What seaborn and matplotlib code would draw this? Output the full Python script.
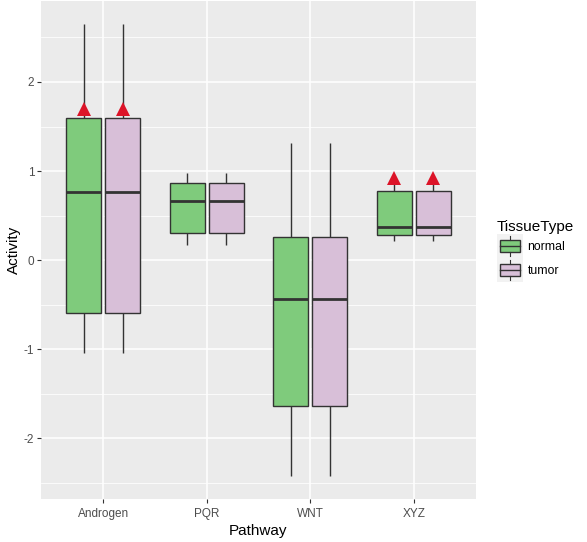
import numpy as np
import pandas as pd
import seaborn as sns
import matplotlib
matplotlib.use("Agg")
import matplotlib.pyplot as plt
from matplotlib.patches import Patch, Rectangle
from matplotlib.lines import Line2D
from matplotlib.legend_handler import HandlerBase

# values
pathways = ['Androgen', 'PQR', 'WNT', 'XYZ']
tissues = ['normal', 'tumor']
whisker_low = [-1.04, 0.17, -2.42, 0.22]
box_low = [-0.59, 0.31, -1.64, 0.28]
median = [0.765, 0.67, -0.43, 0.37]
box_high = [1.60, 0.87, 0.265, 0.78]
whisker_high = [2.655, 0.975, 1.31, 0.87]
mark_pathways = ['Androgen', 'XYZ']
mark_values = [1.70, 0.92]

colors = {'normal': '#7FCB7C', 'tumor': '#D8BFD8'}
mark_color = '#DC1428'
line_color = '#333333'


class BoxKey(HandlerBase):
    def create_artists(self, legend, orig, xd, yd, w, h, fs, trans):
        x0, y0 = -xd, -yd
        bg = Rectangle((x0, y0), w, h, facecolor='#F2F2F2', edgecolor='none', transform=trans)
        bw, bh = w * 0.8, h * 0.5
        bx, by = x0 + (w - bw) / 2, y0 + (h - bh) / 2
        box = Rectangle((bx, by), bw, bh, facecolor=orig.get_facecolor(),
                        edgecolor=line_color, lw=1.0, transform=trans)
        cx = x0 + w / 2
        med = Line2D([bx, bx + bw], [y0 + h / 2] * 2, color=line_color, lw=1.0, transform=trans)
        wl = Line2D([cx, cx], [y0 + h * 0.08, by], color=line_color, lw=0.8, transform=trans)
        wh = Line2D([cx, cx], [by + bh, y0 + h * 0.92], color=line_color, lw=0.8, transform=trans)
        return [bg, box, med, wl, wh]


def main():
    rows = []
    for i, p in enumerate(pathways):
        for t in tissues:
            for v in [whisker_low[i], box_low[i], median[i], box_high[i], whisker_high[i]]:
                rows.append({'Pathway': p, 'TissueType': t, 'Activity': v})
    df = pd.DataFrame(rows)

    marks = pd.DataFrame([{'Pathway': p, 'TissueType': t, 'Activity': v}
                          for p, v in zip(mark_pathways, mark_values) for t in tissues])

    plt.rcParams['font.family'] = ['Liberation Sans', 'DejaVu Sans']
    plt.rcParams['axes.unicode_minus'] = False
    fig = plt.figure(figsize=(5.87, 5.42), dpi=100)
    ax = fig.add_axes([41 / 587, 43.5 / 542, 435 / 587, 497.5 / 542])
    ax.set_facecolor('#EBEBEB')
    for s in ax.spines.values():
        s.set_visible(False)

    sns.boxplot(data=df, x='Pathway', y='Activity', hue='TissueType', order=pathways,
                hue_order=tissues, palette=colors, saturation=1, width=0.75, gap=0.1,
                whis=(0, 100), linecolor=line_color, linewidth=1.0,
                medianprops={'linewidth': 2.0}, capprops={'visible': False},
                legend=False, ax=ax, zorder=3)

    sns.pointplot(data=marks, x='Pathway', y='Activity', hue='TissueType', order=pathways,
                  hue_order=tissues, palette=[mark_color, mark_color], dodge=0.375,
                  markers='^', linestyles='none', errorbar=None, markersize=10,
                  markeredgewidth=0, legend=False, ax=ax, zorder=5)

    lo, hi = min(whisker_low), max(whisker_high)
    pad = 0.05 * (hi - lo)
    ax.set_ylim(lo - pad, hi + pad)
    ax.set_xlim(-0.6, len(pathways) - 0.4)

    ax.set_yticks([-2, -1, 0, 1, 2])
    ax.set_yticks([-2.5, -1.5, -0.5, 0.5, 1.5, 2.5], minor=True)
    ax.grid(True, which='major', color='white', lw=1.1, zorder=0)
    ax.grid(True, which='minor', axis='y', color='white', lw=0.55, zorder=0)
    ax.set_axisbelow(True)
    ax.tick_params(which='major', length=2.7, width=0.8, color=line_color,
                   labelsize=8.5, labelcolor='#4D4D4D', pad=2.2)
    ax.tick_params(axis='x', which='major', pad=4.2)
    ax.tick_params(which='minor', length=0)

    ax.set_xlabel('Pathway', fontsize=11, labelpad=2.5)
    ax.set_ylabel('Activity', fontsize=11, labelpad=2)

    handles = [Patch(facecolor=colors[t]) for t in tissues]
    fig.legend(handles, tissues, title='TissueType', loc='center left',
               bbox_to_anchor=(497 / 587, 1 - 251 / 542), frameon=False,
               handler_map={Patch: BoxKey()}, handlelength=2.1, handleheight=2.6,
               labelspacing=0, handletextpad=0.4, borderpad=0, borderaxespad=0,
               fontsize=8.8, title_fontsize=11, alignment='left')

    fig.savefig('out.png', dpi=100)


if __name__ == "__main__":
    main()
